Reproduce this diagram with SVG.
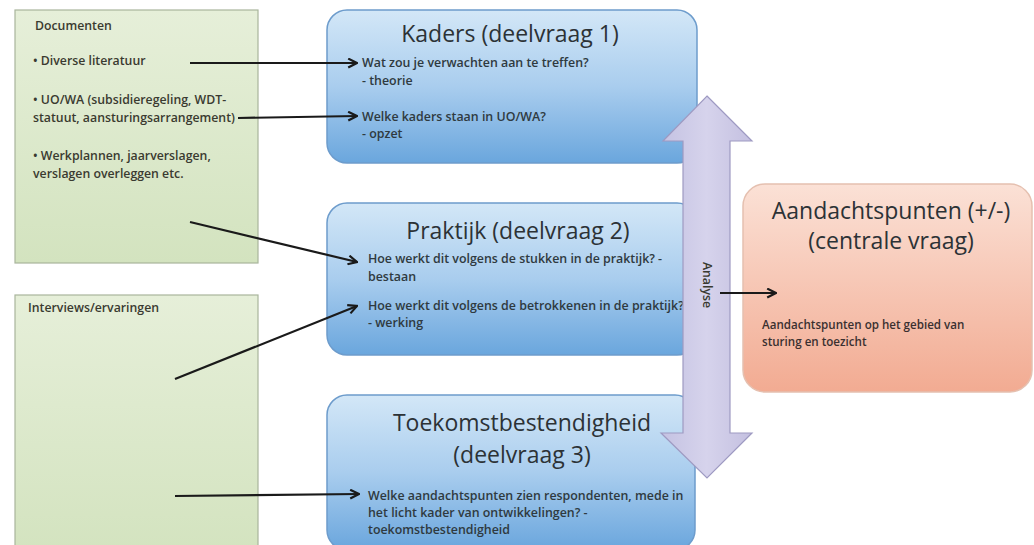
<svg xmlns="http://www.w3.org/2000/svg" width="1034" height="545" viewBox="0 0 1034 545">
<defs>
<linearGradient id="gBlue" x1="0" y1="0" x2="0" y2="1">
<stop offset="0" stop-color="#d3e7f7"/>
<stop offset="0.5" stop-color="#a9cdee"/>
<stop offset="1" stop-color="#6aa6dd"/>
</linearGradient>
<linearGradient id="gGreen" x1="0" y1="0" x2="0" y2="1">
<stop offset="0" stop-color="#e6efd9"/>
<stop offset="1" stop-color="#d3e3bf"/>
</linearGradient>
<linearGradient id="gSalmon" x1="0" y1="0" x2="0" y2="1">
<stop offset="0" stop-color="#fbe1d6"/>
<stop offset="1" stop-color="#f2ab92"/>
</linearGradient>
<linearGradient id="gLav" x1="0" y1="0" x2="1" y2="0">
<stop offset="0" stop-color="#c4c2e2"/>
<stop offset="0.5" stop-color="#d6d3ec"/>
<stop offset="1" stop-color="#c4c0e0"/>
</linearGradient>
<marker id="ah" viewBox="0 0 10 10" refX="9" refY="5" markerWidth="5" markerHeight="5" orient="auto" markerUnits="strokeWidth">
<path d="M1,1 L9,5 L1,9" fill="none" stroke="#1a1a1a" stroke-width="2"/>
</marker>
<style>
.green{fill:url(#gGreen);stroke:#a9b59c;stroke-width:1.2}
.blue{fill:url(#gBlue);stroke:#6d9ccc;stroke-width:1.5}
.salmon{fill:url(#gSalmon);stroke:#e5c0b0;stroke-width:1.5}
.t{font-family:"Open Sans",Lato,sans-serif;font-weight:600;fill:#3a3a30;font-size:12.3px}
.b{font-family:"Open Sans",Lato,sans-serif;font-weight:600;fill:#2f3a40;font-size:12.4px}
.s{font-family:"Open Sans",Lato,sans-serif;font-weight:600;fill:#3a3030;font-size:11.6px}
.h{font-family:"Open Sans",Lato,sans-serif;fill:#2c3236;font-size:23px;text-anchor:middle}
.c{fill:none;stroke:#1a1a1a;stroke-width:2.2;marker-end:url(#ah)}
</style>
</defs>
<rect width="1034" height="545" fill="#ffffff"/>

<g id="documenten">
<rect class="green" x="15" y="10" width="243" height="253"/>
<text class="t" x="35" y="30">Documenten</text>
<text class="t" x="33" y="65">• Diverse literatuur</text>
<text class="t" x="33" y="104">• UO/WA (subsidieregeling, WDT-</text>
<text class="t" x="33" y="122">statuut, aansturingsarrangement)</text>
<text class="t" x="33" y="160">• Werkplannen, jaarverslagen,</text>
<text class="t" x="33" y="178">verslagen overleggen etc.</text>
</g>

<g id="interviews">
<rect class="green" x="15" y="295" width="243" height="260"/>
<text class="t" x="28" y="312">Interviews/ervaringen</text>
</g>

<g id="kaders">
<rect class="blue" x="327" y="10" width="370" height="153" rx="20"/>
<text class="h" x="510" y="42">Kaders (deelvraag 1)</text>
<text class="b" x="362" y="67">Wat zou je verwachten aan te treffen?</text>
<text class="b" x="362" y="85">- theorie</text>
<text class="b" x="362" y="121">Welke kaders staan in UO/WA?</text>
<text class="b" x="362" y="138">- opzet</text>
</g>

<g id="praktijk">
<rect class="blue" x="327" y="203" width="370" height="152" rx="20"/>
<text class="h" x="518" y="239">Praktijk (deelvraag 2)</text>
<text class="b" x="368" y="263">Hoe werkt dit volgens de stukken in de praktijk? -</text>
<text class="b" x="368" y="281">bestaan</text>
<text class="b" x="368" y="310">Hoe werkt dit volgens de betrokkenen in de praktijk?</text>
<text class="b" x="368" y="327">- werking</text>
</g>

<g id="toekomst">
<rect class="blue" x="327" y="395" width="368" height="155" rx="20"/>
<text class="h" x="522" y="431">Toekomstbestendigheid</text>
<text class="h" x="522" y="463">(deelvraag 3)</text>
<text class="b" x="368" y="500">Welke aandachtspunten zien respondenten, mede in</text>
<text class="b" x="368" y="517">het licht kader van ontwikkelingen? -</text>
<text class="b" x="368" y="534">toekomstbestendigheid</text>
</g>

<g id="aandachtspunten">
<rect class="salmon" x="743" y="184" width="289" height="208" rx="22"/>
<text class="h" x="891" y="219">Aandachtspunten (+/-)</text>
<text class="h" x="891" y="249">(centrale vraag)</text>
<text class="s" x="762" y="329">Aandachtspunten op het gebied van</text>
<text class="s" x="762" y="346">sturing en toezicht</text>
</g>

<g id="analyse">
<path d="M707,96 L752,141 L730,141 L730,433 L752,433 L707,478 L661,433 L683,433 L683,141 L663,141 Z" fill="url(#gLav)" stroke="#9e9ac2" stroke-width="1.2"/>
<text class="t" transform="translate(703,285) rotate(90)" text-anchor="middle" font-size="10px">Analyse</text>
</g>

<g id="connectors">
<line class="c" x1="190" y1="63" x2="357" y2="63"/>
<line class="c" x1="238" y1="118" x2="357" y2="116"/>
<line class="c" x1="190" y1="222" x2="357" y2="262"/>
<line class="c" x1="175" y1="379" x2="357" y2="306"/>
<line class="c" x1="175" y1="496" x2="359" y2="494"/>
<line class="c" x1="720" y1="293" x2="776" y2="293"/>
</g>
</svg>
